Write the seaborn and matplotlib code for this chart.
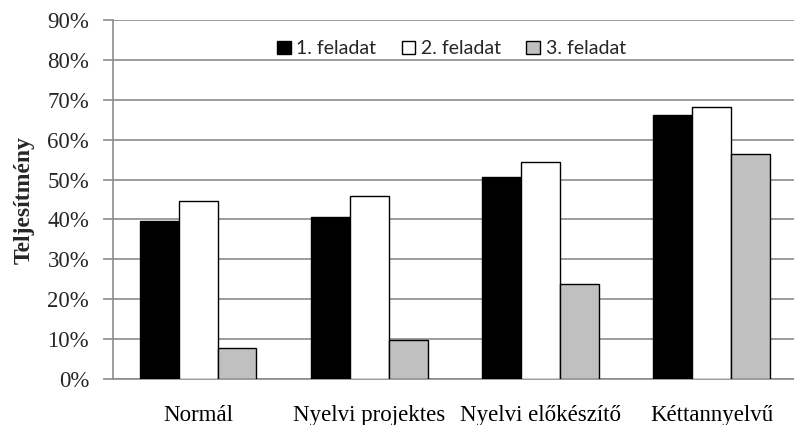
import matplotlib
matplotlib.use("Agg")
import matplotlib.pyplot as plt
import seaborn as sns
import pandas as pd
from matplotlib.ticker import FixedLocator, PercentFormatter

categories = ["Normál", "Nyelvi projektes", "Nyelvi előkészítő", "Kéttannyelvű"]
series = ["1. feladat", "2. feladat", "3. feladat"]
task1 = [39.7, 40.6, 50.6, 66.3]
task2 = [44.7, 45.8, 54.5, 68.2]
task3 = [7.8, 9.8, 23.8, 56.4]
colors = ["#000000", "#ffffff", "#c0c0c0"]

rows = []
for name, vals in zip(series, [task1, task2, task3]):
    for cat, v in zip(categories, vals):
        rows.append({"kategória": cat, "feladat": name, "érték": v})
df = pd.DataFrame(rows)

sns.set_theme(style="white")
plt.rcParams["font.family"] = ["Liberation Serif", "DejaVu Serif"]

fig = plt.figure(figsize=(7.94, 4.25), dpi=100)
ax = fig.add_axes([0.142, 0.108, 0.862, 0.845])

sns.barplot(data=df, x="kategória", y="érték", hue="feladat",
            order=categories, hue_order=series, palette=colors,
            width=0.68, edgecolor="black", linewidth=1.0, saturation=1,
            errorbar=None, ax=ax, zorder=3)

grid_col = "#8c8c8c"
ax.set_ylim(0, 90)
ax.set_xlim(-0.5, 3.5)
ax.yaxis.set_major_locator(FixedLocator(range(0, 91, 10)))
ax.yaxis.set_major_formatter(PercentFormatter(decimals=0))
ax.yaxis.grid(True, color=grid_col, linewidth=1.2, zorder=0)
ax.set_axisbelow(True)

# category boundaries carry the x tick marks
ax.set_xticks([-0.5, 0.5, 1.5, 2.5, 3.5], minor=True)
ax.tick_params(axis="x", which="major", length=0, pad=19, labelsize=16.5, colors="black")
ax.tick_params(axis="x", which="minor", length=6, width=1.2, color=grid_col, direction="out")
ax.tick_params(axis="y", which="major", length=7, width=1.2, color=grid_col,
               direction="out", labelsize=16.5, pad=10, left=True)

for side in ["top", "right"]:
    ax.spines[side].set_visible(False)
for side in ["left", "bottom"]:
    ax.spines[side].set_color(grid_col)
    ax.spines[side].set_linewidth(1.2)

ax.set_xlabel("")
ax.set_ylabel("Teljesítmény", fontsize=17, fontweight="bold", labelpad=9)

handles, labels = ax.get_legend_handles_labels()
ax.legend(handles, labels, loc="center", bbox_to_anchor=(0.495, 0.92), ncol=3,
          frameon=False, handlelength=0.7, handleheight=0.7, handletextpad=0.3,
          columnspacing=1.3, prop={"family": "Lato", "size": 14})

fig.savefig("out.png", dpi=100)
